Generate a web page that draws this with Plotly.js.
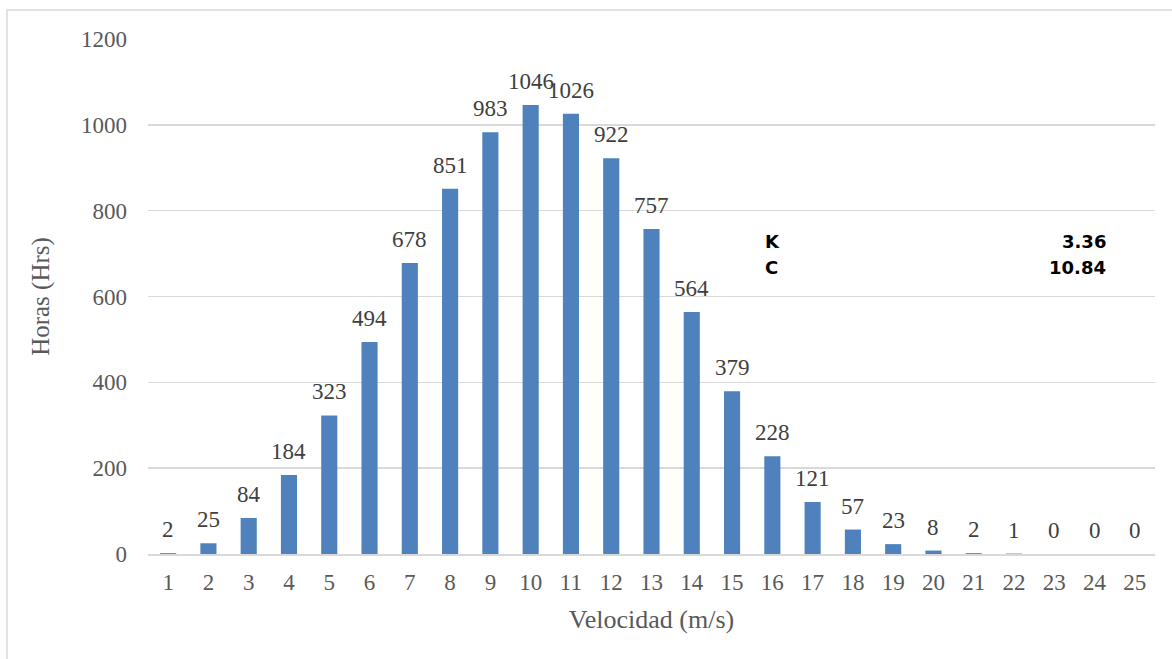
<!DOCTYPE html>
<html><head><meta charset="utf-8">
<script src="https://cdn.plot.ly/plotly-3.0.1.min.js"></script>
<style>html,body{margin:0;padding:0;background:#fff;}#chart{width:1172px;height:659px;}</style>
</head><body><div id="chart"></div>
<script>
const velocidad = ['1','2','3','4','5','6','7','8','9','10','11','12','13','14','15','16','17','18','19','20','21','22','23','24','25'];
const horas = [2,25,84,184,323,494,678,851,983,1046,1026,922,757,564,379,228,121,57,23,8,2,1,0,0,0];
const yTicks = [0,200,400,600,800,1000,1200];
const paramNames = ['K','C'];
const paramValues = ['3.36','10.84'];

const W = 1172, H = 659, L = 148, R = 17, T = 39, B = 105;
const pw = W - L - R, ph = H - T - B;
const px = v => (v - L) / pw;
const py = v => 1 - (v - T) / ph;

const annotations = [];
velocidad.forEach((c, i) => {
  annotations.push({xref:'x', yref:'y', x: i, y: horas[i], xanchor:'center', yanchor:'bottom', yshift: 9,
    text: String(horas[i]), showarrow:false,
    font:{family:'Liberation Serif, Times New Roman', size:23, color:'#404040'}});
});
paramNames.forEach((n, i) => {
  annotations.push({xref:'paper', yref:'paper', x: px(763), y: py(241.5 + i*25.5), xanchor:'left', yanchor:'middle',
    text: n, showarrow:false, font:{family:'DejaVu Sans, Arial', size:18, color:'#000', weight:'bold'}});
  annotations.push({xref:'paper', yref:'paper', x: px(1108), y: py(241.5 + i*25.5), xanchor:'right', yanchor:'middle',
    text: paramValues[i], showarrow:false, font:{family:'DejaVu Sans, Arial', size:18, color:'#000', weight:'bold'}});
});

const data = [{
  type:'bar', x: velocidad, y: horas,
  marker:{color:'#4F81BD'},
  hoverinfo:'x+y'
}];

const layout = {
  width: W, height: H,
  margin:{l:L, r:R, t:T, b:B, pad:0},
  paper_bgcolor:'#fff', plot_bgcolor:'#fff',
  bargap: 0.6,
  showlegend:false,
  font:{family:'Liberation Serif, Times New Roman', color:'#595959'},
  xaxis:{
    type:'category', range:[-0.5, velocidad.length - 0.5], tickvals: velocidad, ticktext: velocidad,
    showline:true, linecolor:'#d9d9d9', linewidth:2, ticks:'', showgrid:false,
    tickfont:{size:23, color:'#595959'},
    ticklabelstandoff: 6,
    title:{text:'Velocidad (m/s)', font:{size:26, color:'#595959'}, standoff: 16}
  },
  yaxis:{
    range:[0,1200], tickvals: yTicks, ticktext: yTicks.map(String),
    showgrid:true, gridcolor:'#d9d9d9', gridwidth:1.5, zeroline:false, showline:false, ticks:'',
    tickfont:{size:23, color:'#595959'},
    ticklabelstandoff: 20,
    title:{text:'Horas (Hrs)', font:{size:25, color:'#595959'}, standoff: 24}
  },
  annotations: annotations,
  shapes:[{type:'rect', xref:'paper', yref:'paper', x0: px(7), x1: px(1180), y0: py(10), y1: py(670),
    line:{color:'#d9d9d9', width:1.5}, fillcolor:'rgba(0,0,0,0)', layer:'below'}]
};

Plotly.newPlot('chart', data, layout, {displayModeBar:false, staticPlot:true});
</script></body></html>
